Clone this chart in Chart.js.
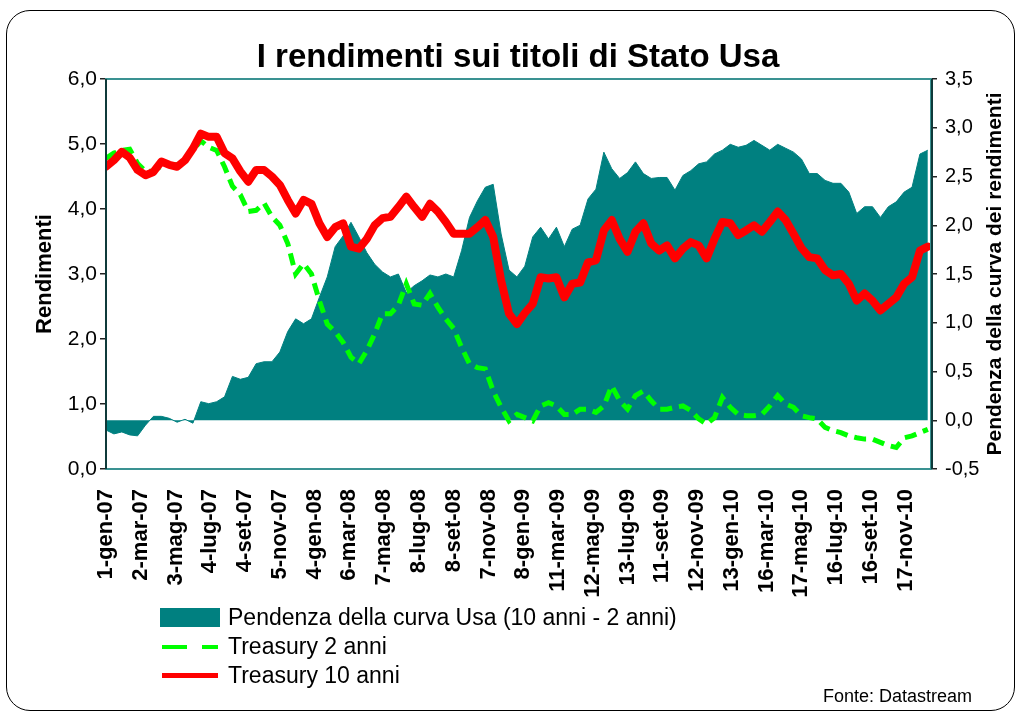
<!DOCTYPE html>
<html lang="it">
<head>
<meta charset="utf-8">
<title>I rendimenti sui titoli di Stato Usa</title>
<script src="https://cdn.jsdelivr.net/npm/chart.js@4.4.1/dist/chart.umd.min.js"></script>
<style>
	html, body { margin: 0; padding: 0; background: #fff; }
	body { width: 1020px; height: 715px; position: relative; overflow: hidden; font-family: "Liberation Sans", Arial, sans-serif; color: #000; }
	#canvasYields { position: absolute; left: 0; top: 0; }
	.frame { position: absolute; left: 6px; top: 10px; width: 1007px; height: 699px; border: 1.5px solid #000; border-radius: 24px; pointer-events: none; }
	.title { position: absolute; left: 0; top: 37px; width: 1036px; text-align: center; font-size: 33px; line-height: 38px; font-weight: bold; }
	.legend { position: absolute; left: 160px; top: 603px; font-size: 23px; line-height: 29px; }
	.legend-row { display: flex; align-items: center; height: 29px; white-space: nowrap; }
	.legend-key { width: 60px; margin-right: 8px; display: flex; justify-content: center; }
	.key-area { width: 60px; height: 19px; background: #008080; }
	.key-dash { width: 56px; height: 4px; background: repeating-linear-gradient(90deg, #00ff00 0 25px, transparent 25px 40px); }
	.key-line { width: 56px; height: 5px; background: #ff0000; }
	.source { position: absolute; left: 823px; top: 686px; font-size: 18px; line-height: 20px; }
</style>
</head>
<body>
<canvas id="canvasYields" width="1020" height="715"></canvas>
<div class="frame"></div>
<div class="title">I rendimenti sui titoli di Stato Usa</div>
<div class="legend">
	<div class="legend-row"><span class="legend-key"><span class="key-area"></span></span>Pendenza della curva Usa (10 anni - 2 anni)</div>
	<div class="legend-row"><span class="legend-key"><span class="key-dash"></span></span>Treasury 2 anni</div>
	<div class="legend-row"><span class="legend-key"><span class="key-line"></span></span>Treasury 10 anni</div>
</div>
<div class="source">Fonte: Datastream</div>

<script>
// etichette dell'asse X: una ogni 44 giorni lavorativi
const tickLabels = [
	'1-gen-07', '2-mar-07', '3-mag-07', '4-lug-07', '4-set-07', '5-nov-07',
	'4-gen-08', '6-mar-08', '7-mag-08', '8-lug-08', '8-set-08', '7-nov-08',
	'8-gen-09', '11-mar-09', '12-mag-09', '13-lug-09', '11-set-09', '12-nov-09',
	'13-gen-10', '16-mar-10', '17-mag-10', '16-lug-10', '16-set-10', '17-nov-10'
];
const TICK_STEP = 44;   // giorni lavorativi tra due etichette
const STEP = 10;        // giorni lavorativi tra due punti
const LAST_DAY = 1044;  // 31-dic-10

// Treasury 10 anni (%)
const treasury10 = [
	4.65, 4.75, 4.88, 4.79, 4.60, 4.52, 4.57, 4.73, 4.68, 4.65,
	4.75, 4.93, 5.16, 5.11, 5.11, 4.86, 4.78, 4.58, 4.42, 4.60,
	4.60, 4.50, 4.37, 4.14, 3.93, 4.14, 4.08, 3.78, 3.57, 3.72,
	3.78, 3.42, 3.39, 3.54, 3.75, 3.86, 3.88, 4.03, 4.19, 4.03,
	3.88, 4.08, 3.96, 3.80, 3.62, 3.62, 3.62, 3.72, 3.83, 3.57,
	2.90, 2.39, 2.23, 2.40, 2.54, 2.95, 2.93, 2.95, 2.64, 2.85,
	2.87, 3.18, 3.21, 3.67, 3.83, 3.54, 3.34, 3.65, 3.78, 3.47,
	3.36, 3.44, 3.24, 3.39, 3.49, 3.44, 3.24, 3.54, 3.80, 3.78,
	3.60, 3.67, 3.75, 3.65, 3.80, 3.96, 3.83, 3.62, 3.40, 3.26,
	3.24, 3.06, 2.98, 3.00, 2.85, 2.59, 2.70, 2.59, 2.44, 2.54,
	2.64, 2.85, 2.95, 3.36, 3.42
];

// Treasury 2 anni (%)
const treasury2 = [
	4.78, 4.86, 4.90, 4.92, 4.70, 4.58, 4.58, 4.66, 4.68, 4.68,
	4.75, 4.90, 5.05, 4.95, 4.90, 4.65, 4.35, 4.22, 3.96, 3.98,
	4.09, 3.88, 3.75, 3.47, 3.00, 3.16, 3.00, 2.59, 2.23, 2.11,
	1.95, 1.72, 1.62, 1.82, 2.08, 2.39, 2.39, 2.52, 2.85, 2.54,
	2.52, 2.70, 2.49, 2.31, 2.16, 1.87, 1.62, 1.56, 1.54, 1.20,
	0.95, 0.74, 0.84, 0.79, 0.74, 0.97, 1.02, 0.97, 0.84, 0.84,
	0.92, 0.92, 0.87, 0.97, 1.28, 1.05, 0.92, 1.13, 1.20, 1.05,
	0.92, 0.92, 0.95, 0.97, 0.90, 0.77, 0.69, 0.79, 1.10, 0.95,
	0.84, 0.82, 0.82, 0.84, 0.97, 1.13, 1.00, 0.95, 0.82, 0.79,
	0.77, 0.64, 0.59, 0.56, 0.51, 0.48, 0.46, 0.46, 0.41, 0.36,
	0.33, 0.48, 0.51, 0.56, 0.61
];

// Pendenza della curva Usa, 10 anni - 2 anni (punti %)
const slopeUsa = [
	-0.10, -0.14, -0.12, -0.15, -0.16, -0.05, 0.04, 0.04, 0.02, -0.02,
	0.01, -0.03, 0.19, 0.17, 0.19, 0.24, 0.45, 0.42, 0.44, 0.58,
	0.60, 0.60, 0.70, 0.91, 1.04, 0.99, 1.04, 1.26, 1.47, 1.78,
	1.89, 2.03, 1.88, 1.72, 1.60, 1.52, 1.47, 1.50, 1.31, 1.38,
	1.43, 1.49, 1.47, 1.50, 1.47, 1.74, 2.08, 2.25, 2.39, 2.42,
	1.91, 1.54, 1.47, 1.58, 1.88, 1.98, 1.86, 1.98, 1.78, 1.96,
	2.00, 2.27, 2.37, 2.75, 2.58, 2.48, 2.54, 2.65, 2.53, 2.48,
	2.49, 2.49, 2.36, 2.51, 2.56, 2.63, 2.65, 2.73, 2.77, 2.83,
	2.80, 2.82, 2.87, 2.82, 2.77, 2.83, 2.79, 2.75, 2.68, 2.53,
	2.53, 2.46, 2.43, 2.43, 2.34, 2.12, 2.19, 2.19, 2.08, 2.19,
	2.24, 2.34, 2.39, 2.73, 2.77
];

document.addEventListener('DOMContentLoaded', () => {

	const fontFamily = '"Liberation Sans", Arial, sans-serif';
	const toPoints = (values) => values.map((v, i) => ({ x: i * STEP, y: v }));
	const comma = (v, digits) => v.toFixed(digits).replace('.', ',');

	//** (Start) Cornice area del grafico **//
	const plotFrame = {
		id: 'plotFrame',
		afterDatasetsDraw(chart) {
			const { ctx, chartArea: a } = chart;
			ctx.save();
			ctx.strokeStyle = '#3a9292';
			ctx.lineWidth = 2;
			ctx.strokeRect(a.left, a.top, a.right - a.left, a.bottom - a.top);
			ctx.strokeStyle = '#0f3a3a';
			ctx.beginPath();
			ctx.moveTo(a.left, a.top);
			ctx.lineTo(a.left, a.bottom);
			ctx.moveTo(a.right + 1, a.top);
			ctx.lineTo(a.right + 1, a.bottom);
			ctx.stroke();
			ctx.restore();
		}
	};
	//** (End) Cornice area del grafico **//

	//** (Start) Titoli degli assi Y (entrambi dal basso verso l'alto) **//
	const axisTitles = {
		id: 'axisTitles',
		afterDraw(chart) {
			const { ctx, chartArea: a } = chart;
			const midY = (a.top + a.bottom) / 2;
			ctx.save();
			ctx.fillStyle = '#000';
			ctx.textAlign = 'center';
			ctx.textBaseline = 'middle';
			[[45, 22, 'Rendimenti'], [995, 21, 'Pendenza della curva dei rendimenti']].forEach(([x, size, text]) => {
				ctx.save();
				ctx.font = 'bold ' + size + 'px ' + fontFamily;
				ctx.translate(x, midY);
				ctx.rotate(-Math.PI / 2);
				ctx.fillText(text, 0, 0);
				ctx.restore();
			});
			ctx.restore();
		}
	};
	//** (End) Titoli degli assi Y **//

	const outerTicks = { drawOnChartArea: false, drawTicks: true, tickLength: 6, color: '#222', lineWidth: 1.5 };

	const canvasYields = document.getElementById('canvasYields');
	const chartYields = new Chart(canvasYields, {
		type: 'line',
		data: {
			datasets: [{
				label: 'Treasury 10 anni',
				data: toPoints(treasury10),
				yAxisID: 'y',
				borderColor: '#ff0000',
				borderWidth: 8,
				borderJoinStyle: 'round',
				borderCapStyle: 'round',
				pointRadius: 0,
				fill: false,
				order: 0
			}, {
				label: 'Treasury 2 anni',
				data: toPoints(treasury2),
				yAxisID: 'y',
				borderColor: '#00ff00',
				borderWidth: 5,
				borderDash: [12, 7],
				pointRadius: 0,
				fill: false,
				order: 1
			}, {
				label: 'Pendenza della curva Usa (10 anni - 2 anni)',
				data: toPoints(slopeUsa),
				yAxisID: 'y1',
				borderColor: '#008080',
				backgroundColor: '#008080',
				borderWidth: 1,
				pointRadius: 0,
				fill: 'origin',
				order: 2
			}]
		},
		options: {
			responsive: false,
			animation: false,
			events: [],
			layout: { padding: { top: 79, left: 0, right: 0, bottom: 0 } },
			plugins: {
				legend: { display: false },
				tooltip: { enabled: false }
			},
			scales: {
				x: {
					type: 'linear',
					min: 0,
					max: LAST_DAY,
					afterFit: (scale) => { scale.height = 246; },
					grid: { display: false, drawTicks: false },
					border: { display: false },
					ticks: {
						stepSize: TICK_STEP,
						includeBounds: false,
						autoSkip: false,
						minRotation: 90,
						maxRotation: 90,
						padding: 20,
						color: '#000',
						font: { family: fontFamily, size: 22, weight: 'bold' },
						callback: (value) => {
							const i = value / TICK_STEP;
							return Number.isInteger(i) && tickLabels[i] ? tickLabels[i] : null;
						}
					}
				},
				y: {
					position: 'left',
					min: 0,
					max: 6,
					afterFit: (scale) => { scale.width = 106; },
					grid: outerTicks,
					border: { display: false },
					ticks: {
						stepSize: 1,
						padding: 3,
						color: '#000',
						font: { family: fontFamily, size: 21 },
						callback: (value) => comma(value, 1)
					}
				},
				y1: {
					position: 'right',
					min: -0.5,
					max: 3.5,
					afterFit: (scale) => { scale.width = 89; },
					grid: outerTicks,
					border: { display: false },
					ticks: {
						stepSize: 0.5,
						padding: 8,
						color: '#000',
						font: { family: fontFamily, size: 20 },
						callback: (value) => comma(value, 1)
					}
				}
			}
		},
		plugins: [plotFrame, axisTitles]
	});

})
</script>
</body>
</html>
